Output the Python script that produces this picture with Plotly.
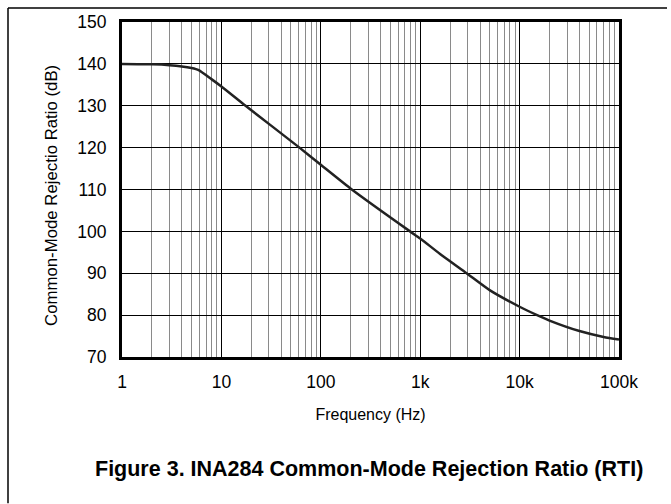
import plotly.graph_objects as go

freq_hz = [1, 2, 3, 4, 5, 5.9, 8, 10, 17.5, 61, 100, 205, 790, 1000, 1585,
           2930, 5040, 10000, 15000, 20000, 40000, 70000, 100000]
cmrr_db = [140, 139.9, 139.7, 139.4, 139.0, 138.5, 136.3, 134.6, 130, 120, 115.9,
           110, 100, 98.3, 94.6, 90, 85.9, 82, 80, 78.7, 76.2, 74.8, 74.2]

x_tickvals = [1, 10, 100, 1000, 10000, 100000]
x_ticktext = ["1", "10", "100", "1k", "10k", "100k"]
y_tickvals = [70, 80, 90, 100, 110, 120, 130, 140, 150]

FONT = "Liberation Sans, Arial, sans-serif"
W, H = 671, 504
L, R, T, B = 122, 52, 20, 147
PW, PH = W - L - R, H - T - B

def px_x(x):
    return (x - L) / PW

def px_y(y):
    return (H - y - B) / PH

fig = go.Figure()
fig.add_trace(go.Scatter(
    x=freq_hz, y=cmrr_db, mode="lines",
    line=dict(color="#222222", width=2.5, shape="spline", smoothing=0.6),
    showlegend=False, hoverinfo="skip",
))

fig.update_layout(
    width=W, height=H,
    margin=dict(l=L, r=R, t=T, b=B),
    paper_bgcolor="white", plot_bgcolor="white",
    font=dict(family=FONT, size=17.5, color="#000"),
    xaxis=dict(
        type="log", range=[0, 5],
        tickvals=x_tickvals, ticktext=x_ticktext,
        showgrid=True, gridcolor="#000", gridwidth=1,
        minor=dict(showgrid=True, gridcolor="#8a8a8a", gridwidth=1, dtick="D1"),
        showline=True, linecolor="#000", linewidth=3, mirror=True,
        ticks="", ticklabelstandoff=7, zeroline=False,
        tickfont=dict(size=17.5),
        title=dict(text="Frequency (Hz)", font=dict(size=16), standoff=18),
    ),
    yaxis=dict(
        range=[70, 150], tickvals=y_tickvals,
        showgrid=True, gridcolor="#000", gridwidth=1,
        showline=True, linecolor="#000", linewidth=3, mirror=True,
        ticks="", ticklabelstandoff=9, zeroline=False,
        tickfont=dict(size=17.5),
    ),
    shapes=[
        dict(type="line", xref="paper", yref="paper",
             x0=px_x(8), x1=px_x(667), y0=px_y(6), y1=px_y(6),
             line=dict(color="#000", width=1.5)),
        dict(type="line", xref="paper", yref="paper",
             x0=px_x(8), x1=px_x(8), y0=px_y(6), y1=px_y(504),
             line=dict(color="#000", width=1.5)),
    ],
    annotations=[
        dict(text="Common-Mode Rejectio Ratio (dB)", textangle=-90,
             xref="paper", yref="paper", x=px_x(52), y=px_y(195),
             xanchor="center", yanchor="middle", showarrow=False,
             font=dict(size=16.8, family=FONT, color="#000")),
        dict(text="<b>Figure 3. INA284 Common-Mode Rejection Ratio (RTI)</b>",
             xref="paper", yref="paper", x=px_x(369), y=px_y(470),
             xanchor="center", yanchor="middle", showarrow=False,
             font=dict(size=21.5, family=FONT, color="#000")),
    ],
)

fig.write_html("out.html", config={"displayModeBar": False},
               post_script="document.body.style.margin='0';")
